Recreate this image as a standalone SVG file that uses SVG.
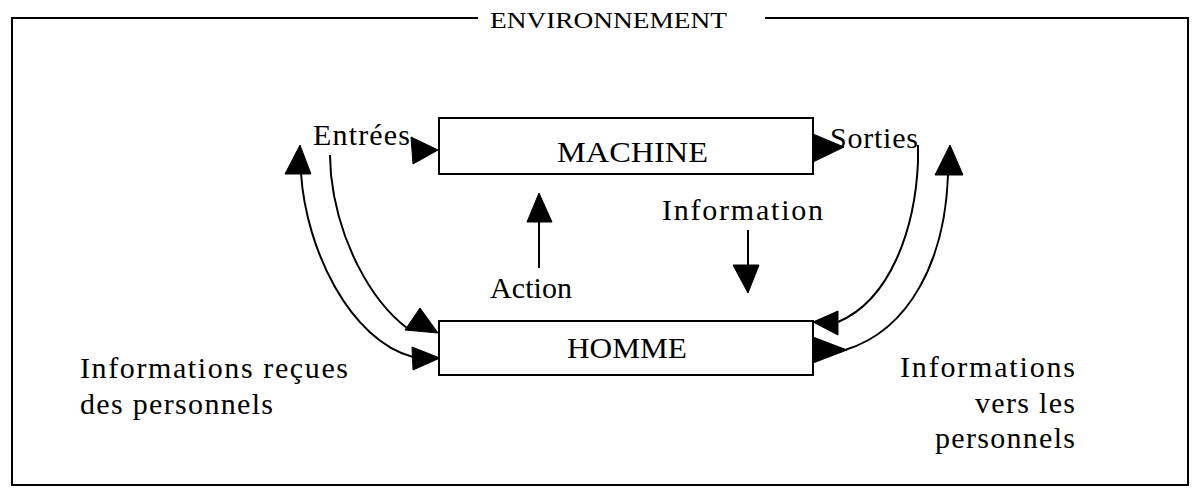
<svg xmlns="http://www.w3.org/2000/svg" width="1200" height="497" viewBox="0 0 1200 497">
<style>
.t{font-family:"Liberation Serif","Times New Roman",serif;font-size:30px;fill:#000}
.box{fill:#fff;stroke:#000;stroke-width:2}
.ln{fill:none;stroke:#000;stroke-width:2}
.ah{fill:#000;stroke:#000;stroke-width:1}
</style>
<rect width="1200" height="497" fill="#fff"/>
<g id="environnement">
<path class="ln" d="M478,18 H12 V485 H1188 V18 H765"/>
<text class="t" x="490" y="28" textLength="237" lengthAdjust="spacingAndGlyphs" style="font-size:24px">ENVIRONNEMENT</text>
</g>
<g id="machine">
<rect class="box" x="439" y="118" width="374" height="56"/>
<text class="t" x="557" y="162" textLength="151" lengthAdjust="spacingAndGlyphs">MACHINE</text>
</g>
<g id="homme">
<rect class="box" x="439" y="321" width="374" height="54"/>
<text class="t" x="567" y="358" textLength="120" lengthAdjust="spacingAndGlyphs">HOMME</text>
</g>
<g id="labels">
<text class="t" x="313" y="145" textLength="97" lengthAdjust="spacing">Entrées</text>
<text class="t" x="830" y="148" textLength="88" lengthAdjust="spacing">Sorties</text>
<text class="t" x="662" y="220" textLength="161" lengthAdjust="spacing">Information</text>
<text class="t" x="490" y="298" textLength="82" lengthAdjust="spacing">Action</text>
<text class="t" x="80" y="378" textLength="268" lengthAdjust="spacing">Informations reçues</text>
<text class="t" x="80" y="414" textLength="193" lengthAdjust="spacing">des personnels</text>
<text class="t" x="900" y="377" textLength="175" lengthAdjust="spacing">Informations</text>
<text class="t" x="975" y="413" textLength="100" lengthAdjust="spacing">vers les</text>
<text class="t" x="935" y="448" textLength="140" lengthAdjust="spacing">personnels</text>
</g>
<g id="connectors">
<path class="ln" d="M301,173 C306,250 350,340 413,357"/>
<path class="ln" d="M330,155 L331,175 C338,240 370,300 407,328"/>
<path class="ln" d="M918,145 L918,162 C915,230 890,300 838,322"/>
<path class="ln" d="M948,175 C945,260 910,330 845,350"/>
<path class="ln" d="M539,222 V268"/>
<path class="ln" d="M748,230 V265"/>
<polygon class="ah" points="300,145 285,174 311,174"/>
<polygon class="ah" points="950,145 935,175 963,175"/>
<polygon class="ah" points="420,308 405,330 438,333"/>
<polygon class="ah" points="412,347 440,358 413,370"/>
<polygon class="ah" points="813,322 838,311 838,335"/>
<polygon class="ah" points="813,337 847,350 813,363"/>
<polygon class="ah" points="411,137 438,150 413,164"/>
<polygon class="ah" points="813,134 844,147 813,162"/>
<polygon class="ah" points="539,193 527,222 552,222"/>
<polygon class="ah" points="733,265 759,265 748,293"/>
</g>
</svg>
